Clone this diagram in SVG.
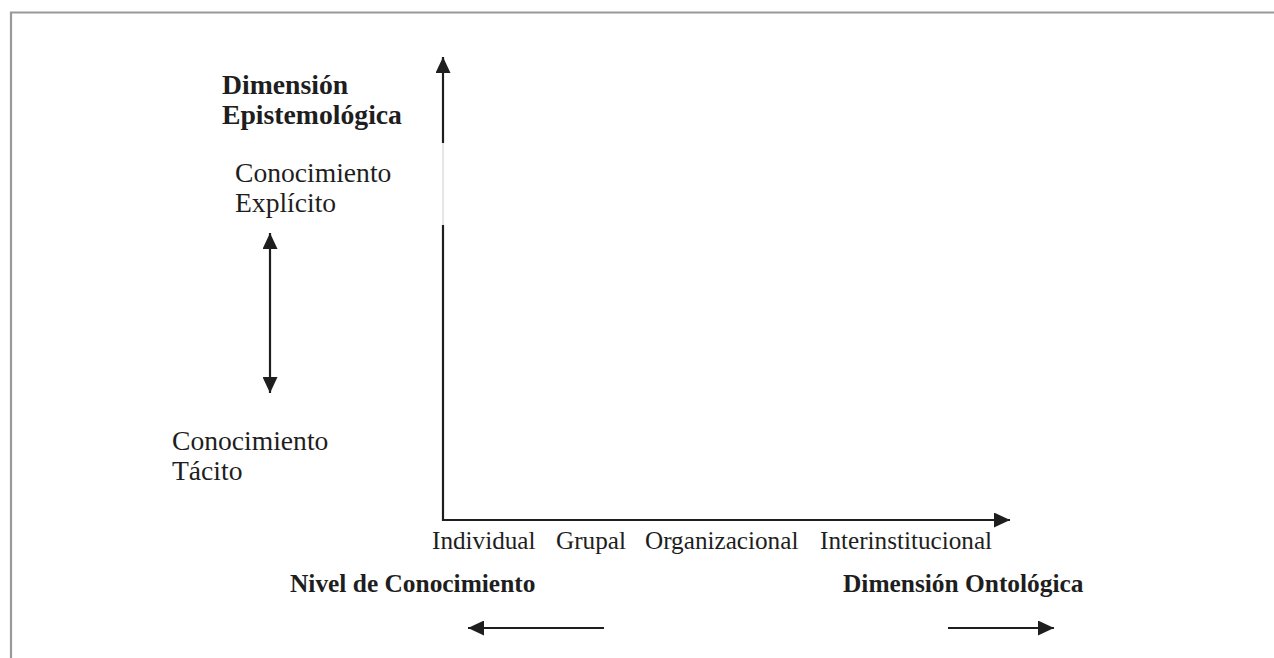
<svg xmlns="http://www.w3.org/2000/svg" width="1274" height="658" viewBox="0 0 1274 658">
  <defs>
    <marker id="ah" markerUnits="userSpaceOnUse" markerWidth="16" markerHeight="15" refX="16" refY="7.5" orient="auto-start-reverse">
      <path d="M0,0 L16,7.5 L0,15 Z" fill="#1e1e1e"/>
    </marker>
  </defs>
  <style>
    .reg { font-family: "Liberation Serif", "Times New Roman", serif; font-size: 27.6px; fill: #1e1e1e; }
    .bold { font-family: "Liberation Serif", "Times New Roman", serif; font-size: 27.7px; font-weight: bold; fill: #1e1e1e; }
    .bold2 { font-family: "Liberation Serif", "Times New Roman", serif; font-size: 25.4px; font-weight: bold; fill: #1e1e1e; }
    .ax { font-family: "Liberation Serif", "Times New Roman", serif; font-size: 25.2px; fill: #1e1e1e; }
    .line { stroke: #1e1e1e; stroke-width: 2.2; fill: none; }
    .border { stroke: #999999; stroke-width: 2.2; fill: none; }
  </style>
  <rect x="0" y="0" width="1274" height="658" fill="#ffffff"/>
  <g id="frame">
    <path class="border" d="M11,658 L11,12.5 L1274,12.5"/>
  </g>
  <g id="connectors">
    <line id="y-axis-top" class="line" x1="443" y1="143" x2="443" y2="57" marker-end="url(#ah)"/>
    <line id="y-axis-gap" x1="443" y1="143" x2="443" y2="225" stroke="#dddddd" stroke-width="1.5"/>
    <line id="y-axis-bottom" class="line" x1="443" y1="225" x2="443" y2="521"/>
    <line id="x-axis" class="line" x1="442" y1="520" x2="1010" y2="520" marker-end="url(#ah)"/>
    <line id="tacit-explicit" class="line" x1="270" y1="233" x2="270" y2="393" marker-start="url(#ah)" marker-end="url(#ah)"/>
    <line id="arrow-left" class="line" x1="604" y1="628" x2="468" y2="628" marker-end="url(#ah)"/>
    <line id="arrow-right" class="line" x1="948" y1="628" x2="1054" y2="628" marker-end="url(#ah)"/>
  </g>
  <g id="epistemological">
    <text class="bold" x="222" y="94">Dimensión</text>
    <text class="bold" x="222" y="124">Epistemológica</text>
  </g>
  <g id="explicit">
    <text class="reg" x="235" y="182">Conocimiento</text>
    <text class="reg" x="235" y="212">Explícito</text>
  </g>
  <g id="tacit">
    <text class="reg" x="172" y="450">Conocimiento</text>
    <text class="reg" x="172" y="480">Tácito</text>
  </g>
  <g id="levels">
    <text class="ax" x="432" y="549">Individual</text>
    <text class="ax" x="556" y="549">Grupal</text>
    <text class="ax" x="645" y="549">Organizacional</text>
    <text class="ax" x="820" y="549">Interinstitucional</text>
  </g>
  <g id="knowledge-level">
    <text class="bold2" x="290" y="592">Nivel de Conocimiento</text>
  </g>
  <g id="ontological">
    <text class="bold2" x="843" y="592">Dimensión Ontológica</text>
  </g>
</svg>
